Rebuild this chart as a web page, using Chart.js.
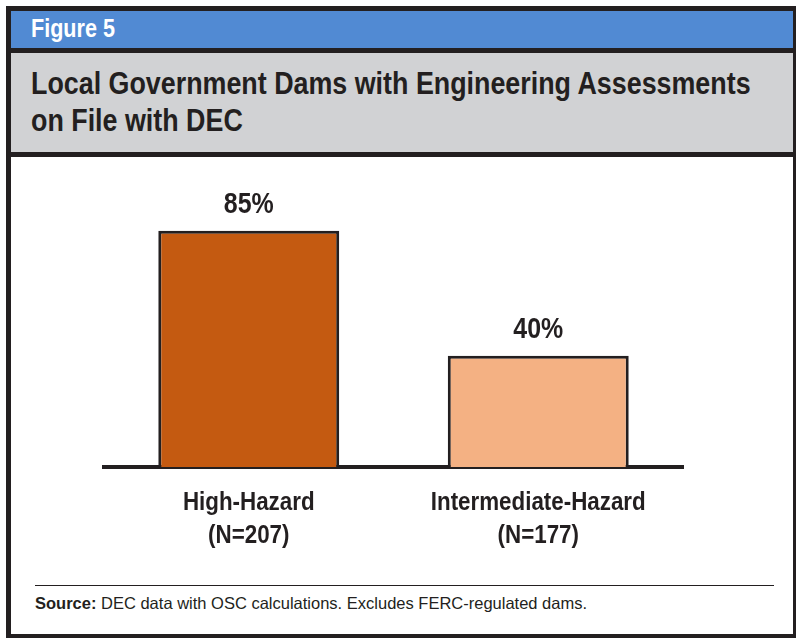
<!DOCTYPE html>
<html>
<head>
<meta charset="utf-8">
<script src="https://cdn.jsdelivr.net/npm/chart.js@4"></script>
<style>
  body { margin: 0; width: 796px; height: 638px; background: #fff; position: relative; overflow: hidden; }
  .frame { position: absolute; left: 6px; top: 6px; width: 782px; height: 623px; border: 5px solid #231f20; border-right-width: 3px; border-bottom-width: 4px; }
  .head { position: absolute; left: 11px; top: 11px; width: 782px; height: 37px; background: #518ad3; }
  .sep1 { position: absolute; left: 11px; top: 48px; width: 782px; height: 5px; background: #231f20; }
  .titlebox { position: absolute; left: 11px; top: 53px; width: 782px; height: 99px; background: #d1d2d4; }
  .sep2 { position: absolute; left: 11px; top: 152px; width: 782px; height: 5px; background: #231f20; }
  .narrow { font-family: "Liberation Sans", Arial, sans-serif; font-weight: bold; transform-origin: 0 0; white-space: nowrap; position: absolute; }
  .fig { left: 31px; top: 15px; font-size: 26px; line-height: 26px; color: #fff; transform: scaleX(0.83); }
  .title { left: 31px; top: 65px; font-size: 31px; line-height: 37px; color: #231f20; transform: scaleX(0.866); }
  .rule { position: absolute; left: 35px; top: 585px; width: 739px; height: 1px; background: #231f20; }
  .src { position: absolute; left: 35px; top: 594px; font: 16.5px/18px "Liberation Sans", Arial, sans-serif; color: #231f20; white-space: nowrap; }
  #wrap { position: absolute; left: 0; top: 160px; width: 796px; height: 420px; }
</style>
</head>
<body>
<div class="frame"></div>
<div class="head"></div>
<div class="sep1"></div>
<div class="titlebox"></div>
<div class="sep2"></div>
<div class="narrow fig">Figure 5</div>
<div class="narrow title">Local Government Dams with Engineering Assessments<br>on File with DEC</div>
<div id="wrap"><canvas id="chart"></canvas></div>
<div class="rule"></div>
<div class="src"><b>Source:</b> DEC data with OSC calculations. Excludes FERC-regulated dams.</div>

<script>
const categories = [["High-Hazard", "(N=207)"], ["Intermediate-Hazard", "(N=177)"]];
const shares = [85, 40];
const barColors = ["#c45a11", "#f4b183"];

const FONT = '"Liberation Sans", Arial, sans-serif';
const INK = "#231f20";

// condensed text: draw with a horizontal squeeze
function squeezed(ctx, text, x, y, sx) {
  ctx.save();
  ctx.translate(x, y);
  ctx.scale(sx, 1);
  ctx.fillText(text, 0, 0);
  ctx.restore();
}

// percent labels above bars + two-line category labels under the axis
const labelsPlugin = {
  id: "labelsPlugin",
  afterDraw(chart) {
    const ctx = chart.ctx;
    const meta = chart.getDatasetMeta(0);
    const xScale = chart.scales.x;
    ctx.save();
    ctx.fillStyle = INK;
    ctx.textAlign = "center";
    ctx.textBaseline = "alphabetic";
    ctx.font = "bold 29px " + FONT;
    meta.data.forEach((bar, i) => {
      squeezed(ctx, shares[i] + "%", bar.x, bar.y - 18, 0.86);
    });
    ctx.font = "bold 26px " + FONT;
    categories.forEach((lines, i) => {
      const x = xScale.getPixelForTick(i);
      lines.forEach((line, j) => {
        squeezed(ctx, line, x, xScale.top + 43 + j * 33, 0.86);
      });
    });
    ctx.restore();
  },
};

const ctx = document.getElementById("chart").getContext("2d");
new Chart(ctx, {
  type: "bar",
  data: {
    labels: categories,
    datasets: [
      {
        data: shares,
        backgroundColor: barColors,
        borderColor: INK,
        borderWidth: 3,
        borderSkipped: "bottom",
        barPercentage: 0.625,
        categoryPercentage: 1,
      },
    ],
  },
  options: {
    responsive: true,
    maintainAspectRatio: false,
    animation: false,
    layout: { padding: { left: 104, right: 113, top: 29, bottom: 0 } },
    plugins: { legend: { display: false }, tooltip: { enabled: false } },
    scales: {
      y: { display: false, min: 0, max: 100 },
      x: {
        grid: { display: false, drawTicks: false },
        border: { display: true, color: INK, width: 4 },
        ticks: { display: false },
        afterFit(scale) {
          scale.height = 113;
        },
      },
    },
  },
  plugins: [labelsPlugin],
});
</script>
</body>
</html>
